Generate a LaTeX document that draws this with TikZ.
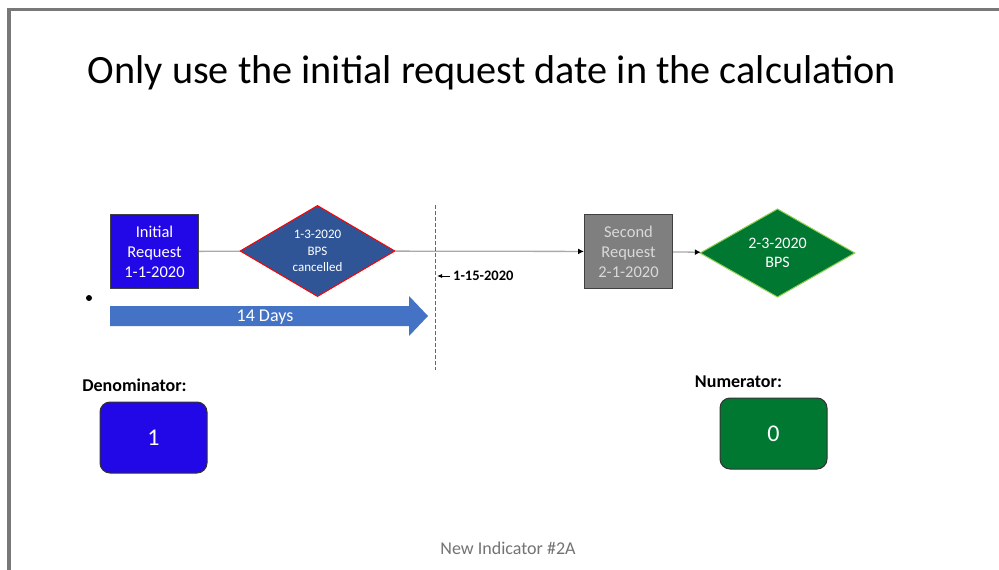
\documentclass[tikz,border=0pt]{standalone}
\usepackage{fontspec}
\setmainfont{Carlito}
\usetikzlibrary{shapes.geometric,arrows.meta,positioning}

\definecolor{reqblue}{RGB}{34,8,230}
\definecolor{cancelblue}{RGB}{47,85,151}
\definecolor{reqgray}{RGB}{127,127,127}
\definecolor{bpsgreen}{RGB}{0,120,50}
\definecolor{bpsedge}{RGB}{146,208,80}
\definecolor{daysblue}{RGB}{68,114,196}
\definecolor{framegray}{RGB}{120,120,120}
\definecolor{linkgray}{RGB}{170,170,170}

\tikzset{
    reqbox/.style={draw=black!75, line width=1pt, align=center, inner sep=0pt,
        minimum width=88pt, minimum height=74pt, font=\fontsize{16.5}{20}\selectfont},
    bpsdiamond/.style={diamond, draw, line width=1pt, align=center, inner sep=0pt,
        minimum width=155pt, minimum height=88pt, text=white},
    countbox/.style={draw=black!80, line width=1pt, rounded corners=10pt, text=white,
        minimum width=107pt, minimum height=71pt, font=\fontsize{24}{28}\selectfont},
    countlabel/.style={font=\bfseries\fontsize{18}{21}\selectfont},
    link/.style={draw=linkgray, line width=1.3pt},
    tip/.style={-{Latex[length=6pt,width=6pt,black]}}
}

\begin{document}
\begin{tikzpicture}[x=1pt, y=-1pt]

    % the frame
    \useasboundingbox (0,0) rectangle (999,570);
    \fill[white] (0,0) rectangle (999,570);
    \draw[framegray, line width=3.5pt] (9,570) -- (9,9.5) -- (999,9.5);

    % title
    \node[anchor=base, font=\fontsize{40.2}{46}\selectfont] (title) at (492,83)
        {Only use the initial request date in the calculation};

    % requests
    \node[reqbox, fill=reqblue, text=white] (first) at (154.5,251.5) {Initial\\Request\\1-1-2020};
    \node[bpsdiamond, fill=cancelblue, draw=red, font=\fontsize{13}{16.5}\selectfont]
        (cancel) at (317.5,251) {1-3-2020\\BPS\\cancelled};
    \node[reqbox, fill=reqgray, text=black!15] (second) at (628.5,251.5) {Second\\Request\\2-1-2020};
    \node[bpsdiamond, fill=bpsgreen, draw=bpsedge, font=\fontsize{16}{19.5}\selectfont]
        (bps) at (777.5,253) {2-3-2020\\BPS};

    \draw[link] (first) -- (cancel);
    \draw[link, tip] (cancel) -- (second);
    \draw[link, tip] (second) -- (bps);

    % cut-off date
    \coordinate (cuttop) at (435,205);
    \coordinate (cutbot) at (435,370);
    \draw[black!60, line width=0.7pt, dash pattern=on 3.5pt off 2.5pt] (cuttop) -- (cutbot);
    \node[anchor=west, inner sep=0pt, font=\bfseries\fontsize{14.5}{17}\selectfont]
        (cutdate) at (453,276) {1-15-2020};
    \draw[line width=0.8pt, -{Latex[length=5pt,width=4pt]}] ([xshift=-3pt]cutdate.west)
        -- ([xshift=2pt]cutdate.west -| cuttop);

    % 14 days
    \node[circle, fill=black, inner sep=0pt, minimum size=6pt] (dot) at (89,298) {};
    \fill[daysblue] (110,306) -- (409,306) -- (409,296) -- (428,316) -- (409,336)
        -- (409,326) -- (110,326) -- cycle;
    \node[text=white, font=\fontsize{18}{21}\selectfont] (days) at (265,317) {14 Days};

    % counts
    \node[countlabel] (denlabel) at (134.5,385) {Denominator:};
    \node[countbox, fill=reqblue] (den) at (153.5,437.5) {1};
    \node[countlabel] (numlabel) at (738.5,382) {Numerator:};
    \node[countbox, fill=bpsgreen] (num) at (773.5,433.5) {0};

    % footer
    \node[text=black!55, font=\fontsize{18}{21}\selectfont] (footer) at (508,548) {New Indicator \#2A};

\end{tikzpicture}
\end{document}
